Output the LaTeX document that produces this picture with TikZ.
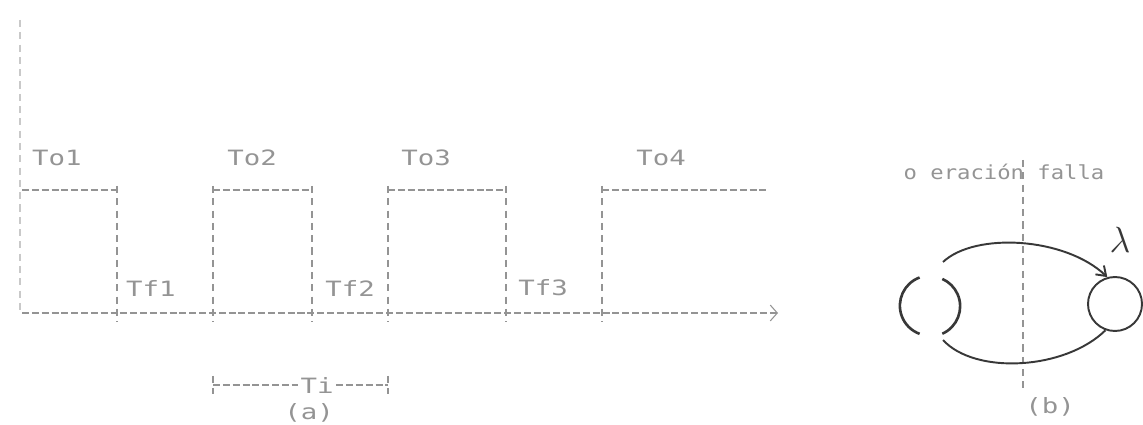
\documentclass[tikz,border=0pt]{standalone}
\usepackage{fontspec}
\setmonofont{DejaVu Sans Mono}
\usetikzlibrary{arrows.meta}
\definecolor{plot}{gray}{0.58}
\definecolor{ink}{gray}{0.22}
\tikzset{
  level/.style={plot, line width=0.6pt, dash pattern=on 4pt off 1.6pt},
  edge/.style={plot, line width=0.6pt, dash pattern=on 4pt off 3pt},
  lbl/.style={text=plot, font=\ttfamily\fontsize{12}{14}\selectfont, xscale=1.3, inner sep=1pt},
  blbl/.style={text=plot, font=\ttfamily\fontsize{11}{13}\selectfont, xscale=1.15, inner sep=1pt},
  trans/.style={ink, line width=1.1pt},
}

\begin{document}
\begin{tikzpicture}[x=0.02cm, y=-0.02cm]
\useasboundingbox (0,0) rectangle (1143,425);
\begin{scope}
\draw[edge, plot!50] (20,20) -- (20,313);
\draw[level] (22,190) -- (117,190);
\draw[level] (213,190) -- (312,190);
\draw[level] (388,190) -- (506,190);
\draw[level] (602,190) -- (767,190);
\foreach \x in {117,213,312,388,506,602}
  \draw[edge] (\x,186) -- (\x,322);
\draw[level, -{Straight Barb[length=4pt, width=9pt]}] (22,313) -- (778,313);
\node[lbl] (to1) at (57,158) {To1};
\node[lbl] (to2) at (252,158) {To2};
\node[lbl] (to3) at (426,158) {To3};
\node[lbl] (to4) at (661,158) {To4};
\node[lbl] (tf1) at (151,288) {Tf1};
\node[lbl] (tf2) at (350,288) {Tf2};
\node[lbl] (tf3) at (543,288) {Tf3};
\node[lbl] (ti) at (317,385) {Ti};
\coordinate (tiL) at (213,385);
\coordinate (tiR) at (388,385);
\draw[edge] (213,376) -- (213,394);
\draw[edge] (388,376) -- (388,394);
\draw[level] (tiL) -- (ti) -- (tiR);
\node[lbl] (capa) at (309,413) {(a)};
\end{scope}
\begin{scope}
\draw[edge] (1023,160) -- (1023,390);
\node[blbl] (optxt) at (1004,172) {o eración falla};
\node[circle, minimum size=1.2cm, inner sep=0pt] (up) at (930,306) {};
\draw[trans, line width=1.5pt] (up.110) arc[start angle=110, end angle=250, radius=0.6cm];
\draw[trans, line width=1.5pt] (up.-66) arc[start angle=-66, end angle=66, radius=0.6cm];
\node[circle, draw, trans, minimum size=1.08cm, inner sep=0pt] (fail) at (1115,304) {};
\coordinate (upA) at (943,262);
\coordinate (upB) at (943,340);
\draw[trans, -{Straight Barb[length=5pt, width=7pt]}] (upA) .. controls (975,232) and (1065,237) .. (fail.106);
\draw[trans] (fail.250) .. controls (1065,370) and (975,375) .. (upB);
\node[ink, font=\huge] (lam) at (1120,240) {$\lambda$};
\node[lbl] (capb) at (1050,407) {(b)};
\end{scope}
\end{tikzpicture}
\end{document}
